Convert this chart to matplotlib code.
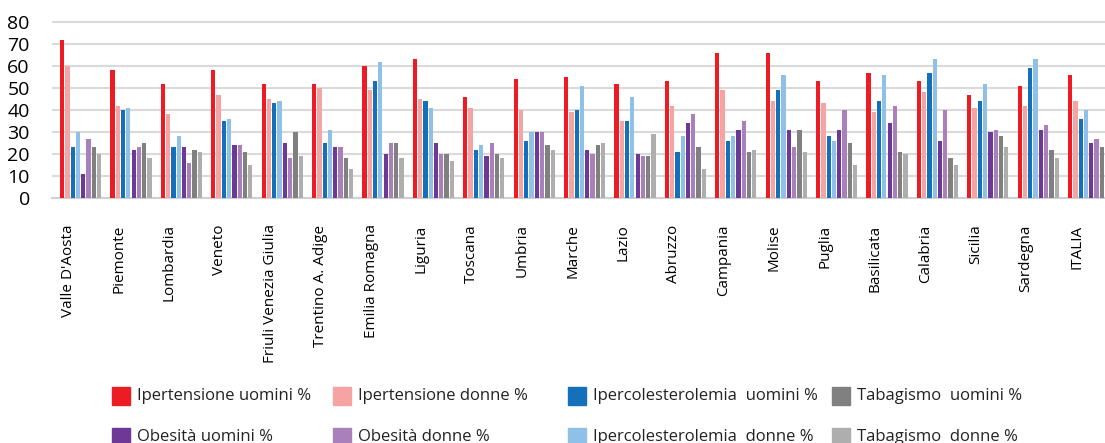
import matplotlib.pyplot as plt
from matplotlib.patches import Rectangle

plt.rcParams['font.family'] = ['Open Sans', 'DejaVu Sans']

regions = ["Valle D'Aosta", 'Piemonte', 'Lombardia', 'Veneto', 'Friuli Venezia Giulia',
           'Trentino A. Adige', 'Emilia Romagna', 'Liguria', 'Toscana', 'Umbria',
           'Marche', 'Lazio', 'Abruzzo', 'Campania', 'Molise', 'Puglia',
           'Basilicata', 'Calabria', 'Sicilia', 'Sardegna', 'ITALIA']

# values in %, one list per series (bar order inside each group)
iper_u = [72, 58, 52, 58, 52, 52, 60, 63, 46, 54, 55, 52, 53, 66, 66, 53, 57, 53, 47, 51, 56]
iper_d = [60, 42, 38, 47, 45, 50, 49, 45, 41, 40, 39, 35, 42, 49, 44, 43, 39, 48, 41, 42, 44]
col_u = [23, 40, 23, 35, 43, 25, 53, 44, 22, 26, 40, 35, 21, 26, 49, 28, 44, 57, 44, 59, 36]
col_d = [30, 41, 28, 36, 44, 31, 62, 41, 24, 30, 51, 46, 28, 28, 56, 26, 56, 63, 52, 63, 40]
obes_u = [11, 22, 23, 24, 25, 23, 20, 25, 19, 30, 22, 20, 34, 31, 31, 31, 34, 26, 30, 31, 25]
obes_d = [27, 23, 16, 24, 18, 23, 25, 20, 25, 30, 20, 19, 38, 35, 23, 40, 42, 40, 31, 33, 27]
tab_u = [23, 25, 22, 21, 30, 18, 25, 20, 20, 24, 24, 19, 23, 21, 31, 25, 21, 18, 28, 22, 23]
tab_d = [20, 18, 21, 15, 19, 13, 18, 17, 18, 22, 25, 29, 13, 22, 21, 15, 20, 15, 23, 18, 20]

series = [iper_u, iper_d, col_u, col_d, obes_u, obes_d, tab_u, tab_d]
colors = ['#ED1C24', '#F5A3A3', '#1570BA', '#8EC0E8', '#6E3996', '#A980BC', '#808080', '#AEAEAE']
labels = ['Ipertensione uomini %', 'Ipertensione donne %', 'Ipercolesterolemia  uomini %',
          'Ipercolesterolemia  donne %', 'Obesità uomini %', 'Obesità donne %',
          'Tabagismo  uomini %', 'Tabagismo  donne %']

W, H = 1105, 443
fig = plt.figure(figsize=(W / 100, H / 100), dpi=100)
ax = fig.add_axes([52 / W, (H - 198) / H, (W - 52) / W, 180.4 / H])

step = 0.105
for j, (vals, c) in enumerate(zip(series, colors)):
    xs = [i + j * step for i in range(len(regions))]
    ax.bar(xs, vals, width=0.085, color=c, zorder=3, linewidth=0)

ax.set_xlim(-0.2, (W - 52) / 50.4 - 0.2)
ax.set_ylim(0, 82)
ax.set_yticks(range(0, 81, 10))
ax.yaxis.grid(True, color='#DADADA', linewidth=1.5, zorder=0)
ax.set_xticks([i + 0.13 for i in range(len(regions))])
ax.set_xticklabels(regions, rotation=90, fontsize=11, va='top', ha='center')
ax.tick_params(axis='x', length=0, pad=19)
ax.tick_params(axis='y', length=0, labelsize=14, pad=16)
for s in ['top', 'right', 'left']:
    ax.spines[s].set_visible(False)
ax.spines['bottom'].set_color('#D0D0D0')
ax.spines['bottom'].set_linewidth(1.5)

# legend drawn by hand, 4 columns x 2 rows
col_x = [112, 333, 568, 832]
row_y = [396, 437]
for k, (lab, c) in enumerate(zip(labels, colors)):
    col = [0, 1, 2, 2, 0, 1, 3, 3][k]
    row = [0, 0, 0, 1, 1, 1, 0, 1][k]
    x0, y0 = col_x[col], row_y[row]
    fig.patches.append(Rectangle((x0 / W, (H - y0 - 9) / H), 18 / W, 18 / H,
                                 transform=fig.transFigure, color=c))
    fig.text((x0 + 25) / W, (H - y0) / H, lab, fontsize=12, va='center', ha='left',
             color='#222222')

fig.savefig('out.png', dpi=100)
